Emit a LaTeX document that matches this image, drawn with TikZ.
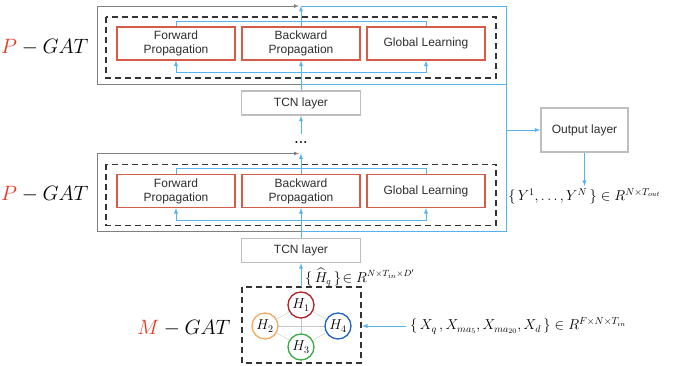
\documentclass[tikz,border=0pt]{standalone}
\usepackage{amsmath}
\usepackage{fontspec}
\setsansfont{Liberation Sans}
\usetikzlibrary{arrows,positioning}

\definecolor{propred}{RGB}{214,92,72}
\definecolor{wireblue}{RGB}{88,178,236}
\definecolor{boxgray}{RGB}{190,190,190}
\definecolor{textgray}{RGB}{45,45,45}
\definecolor{gatred}{RGB}{232,52,28}
\definecolor{hred}{RGB}{178,34,34}
\definecolor{horange}{RGB}{244,170,100}
\definecolor{hgreen}{RGB}{60,170,70}
\definecolor{hblue}{RGB}{30,100,200}

\tikzset{
	prop/.style={draw=propred, line width=1.1pt, minimum width=118pt, minimum height=33pt,
		inner sep=0pt, align=center, text=textgray, font=\sffamily\fontsize{12}{14}\selectfont},
	tcnbox/.style={draw=boxgray, line width=1.4pt, minimum width=119pt, minimum height=24pt,
		inner sep=0pt, text=textgray, font=\sffamily\fontsize{12}{14}\selectfont},
	wire/.style={wireblue, line width=0.9pt},
	residual/.style={gray, line width=0.7pt},
	dashbox/.style={draw=black!80, line width=1.3pt, dash pattern=on 6pt off 4pt},
	hnode/.style={circle, fill=white, line width=1.3pt, minimum size=26pt, inner sep=0pt,
		font=\fontsize{14}{14}\selectfont},
	gatlabel/.style={font=\fontsize{21}{24}\selectfont},
	mathlabel/.style={inner sep=1pt, font=\fontsize{14.5}{16}\selectfont}
}

\begin{document}
\begin{tikzpicture}[x=1pt, y=-1pt, >=latex]
	\useasboundingbox (0,0) rectangle (683,366);
	% Draw P-GAT blocks, \t is the top of the frame
	\foreach \i/\t in {1/6, 2/153.5} {
		\draw[dashbox] (106,\t+11) rectangle (496,\t+72);
		\node[prop] (fwd\i) at (176,\t+37.5) {Forward\\Propagation};
		\node[prop] (bwd\i) at (301,\t+37.5) {Backward\\Propagation};
		\node[prop] (glb\i) at (426,\t+37.5) {Global Learning};
		\node[gatlabel, anchor=east] (pgat\i) at (92,\t+41) {$\color{gatred}P\color{black}-GAT$};
		\coordinate (top\i) at (301,\t);
		\coordinate (in\i) at (301,\t+78);
		% Draw arcs inside the block
		\draw[wire] (fwd\i.north) -- ++(0,-5) -| (glb\i.north);
		\draw[wire, <->] (fwd\i.south) -- ++(0,12) -| (glb\i.south);
		\draw[wire, ->] (bwd\i.north) -- (top\i);
		\draw[residual, ->] (in\i) -| (97,\t) -- ([xshift=-2pt]top\i);
	}
	% Draw TCN layers
	\node[tcnbox] (tcn1) at (301,103) {TCN layer};
	\node[tcnbox] (tcn2) at (301,250.5) {TCN layer};
	\node (dots) at (301,142) {\fontsize{14}{14}\selectfont\bfseries...};
	\coordinate (up) at (301,134);
	\draw[wire, ->] (tcn1) -- (bwd1);
	\draw[wire, ->] (tcn2) -- (bwd2);
	\draw[wire, ->] (up) -- (tcn1);
	% Draw output side
	\coordinate (railtop) at (506,6);
	\coordinate (railbot) at (506,231.5);
	\node[tcnbox, minimum width=87pt, minimum height=44pt] (out) at (584.5,130) {Output layer};
	\coordinate (yout) at (584.5,186);
	\draw[wire] (top1) -- (railtop) -- (railbot) -- (in2);
	\draw[wire] (in1) -- (railtop |- in1);
	\draw[wire, ->] (railtop |- out) -- (out);
	\draw[wire, ->] (out) -- (yout);
	\node[mathlabel, anchor=north] (ylab) at ([yshift=-1pt]yout) {$\{\,Y^1,\ldots,Y^N\,\}\in R^{N\times T_{out}}$};
	% Draw M-GAT, the dashed frame is drawn between two corners
	\coordinate (mgatnw) at (242,287);
	\coordinate (mgatse) at (361,363);
	\coordinate (mgattop) at (301,287);
	\coordinate (mgatin) at (361,326);
	\draw[dashbox] (mgatnw) rectangle (mgatse);
	\node[gatlabel, anchor=east] (mlab) at (234,328) {$\color{gatred}M\color{black}-GAT$};
	\draw[gray!45] (265,326) -- (338,326) (301,305) -- (301,347);
	\node[hnode, draw=hred] (h1) at (301,305) {$H_1$};
	\node[hnode, draw=horange] (h2) at (265,326) {$H_2$};
	\node[hnode, draw=hgreen] (h3) at (301,347) {$H_3$};
	\node[hnode, draw=hblue] (h4) at (338,326) {$H_4$};
	\draw[gray!45] (h1) -- (h2) -- (h3) -- (h4) -- (h1);
	\draw[wire, ->] (mgattop) -- (tcn2);
	\node[mathlabel, anchor=west, inner sep=0pt, font=\fontsize{13.5}{15}\selectfont] (hlab) at (305,277) {$\{\,\widehat{H}_q\,\}\!\in R^{N\times T_{in}\times D'}$};
	\coordinate (xin) at (406,326);
	\draw[wire, ->] (xin) -- ([xshift=1pt]mgatin);
	\node[mathlabel, anchor=west] (xlab) at (409,326) {$\{\,X_q\,,X_{ma_5},X_{ma_{20}},X_d\,\}\in R^{F\times N\times T_{in}}$};
\end{tikzpicture}
\end{document}
